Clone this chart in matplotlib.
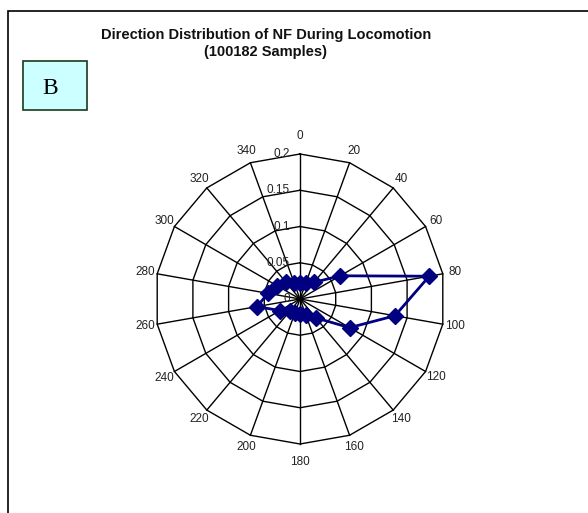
import numpy as np
import matplotlib
matplotlib.use("Agg")
import matplotlib.pyplot as plt
from matplotlib.patches import Rectangle

# ---- data ----
directions = [0, 20, 40, 60, 80, 100, 120, 140, 160, 180,
              200, 220, 240, 260, 280, 300, 320, 340]
values = [0.022, 0.023, 0.030, 0.064, 0.181, 0.133, 0.079, 0.034, 0.023, 0.020,
          0.020, 0.022, 0.032, 0.060, 0.045, 0.036, 0.031, 0.023]
radial_ticks = [0, 0.05, 0.1, 0.15, 0.2]
radial_labels = ["0", "0.05", "0.1", "0.15", "0.2"]
title_line1 = "Direction Distribution of NF During Locomotion"
title_line2 = "(100182 Samples)"
panel_label = "B"

plt.rcParams['font.family'] = ['Liberation Sans', 'DejaVu Sans']

W, H = 588, 513
fig = plt.figure(figsize=(W / 100, H / 100), dpi=100)

# axes geometry: center at (300, 299) px, 0.2 -> 145 px
cx, cy, R = 300, 299, 145.0
rmax = radial_ticks[-1]
lim = 0.25
half = lim / rmax * R
ax = fig.add_axes([(cx - half) / W, (H - cy - half) / H, 2 * half / W, 2 * half / H])
ax.set_xlim(-lim, lim)
ax.set_ylim(-lim, lim)
ax.set_aspect('equal')
ax.axis('off')

theta = np.deg2rad(np.array(directions, dtype=float))
sx, sy = np.sin(theta), np.cos(theta)

# polygon rings
for r in radial_ticks[1:]:
    xs = np.append(r * sx, r * sx[0])
    ys = np.append(r * sy, r * sy[0])
    ax.plot(xs, ys, color='black', lw=1.0, zorder=1)
# spokes
for a, b in zip(sx, sy):
    ax.plot([0, rmax * a], [0, rmax * b], color='black', lw=1.0, zorder=1)

# radial labels
for r, lab in zip(radial_ticks, radial_labels):
    ax.text(-10 / R * rmax, r, lab, ha='right', va='center', fontsize=8.5,
            color='#222222', zorder=2)

# category labels
for d, a, b in zip(directions, sx, sy):
    extra = 0.008 if abs(b) > 0.99 else 0.0
    rl = rmax * 157 / R + extra
    ax.text(rl * a, rl * b, str(d), ha='center', va='center', fontsize=8.5,
            color='#222222')

# data series
v = np.array(values)
xs = np.append(v * sx, v[0] * sx[0])
ys = np.append(v * sy, v[0] * sy[0])
ax.plot(xs, ys, color='#000080', lw=2.0, zorder=3)
ax.plot(v * sx, v * sy, linestyle='none', marker='D', markersize=8.5,
        color='#000080', zorder=4)

# titles
fig.text(266 / W, 1 - 35 / H, title_line1, ha='center', va='center',
         fontsize=10.5, fontweight='bold', color='#111111')
fig.text(266 / W, 1 - 52 / H, title_line2, ha='center', va='center',
         fontsize=10.5, fontweight='bold', color='#111111')

# outer chart border (extends beyond the image)
fig.patches.append(Rectangle((7.5 / W, -0.1), 1.2, (H - 10.5) / H + 0.1,
                             transform=fig.transFigure, fill=False,
                             edgecolor='black', lw=1.2))

# panel label box
fig.patches.append(Rectangle((23 / W, 1 - 110 / H), 64 / W, 49 / H,
                             transform=fig.transFigure, facecolor='#ccffff',
                             edgecolor='#1a3a1a', lw=1.2))
fig.text(50 / W, 1 - 88 / H, panel_label, ha='center', va='center',
         fontsize=17, family=['Liberation Serif', 'DejaVu Serif'], color='black')

fig.savefig('out.png', dpi=100)
